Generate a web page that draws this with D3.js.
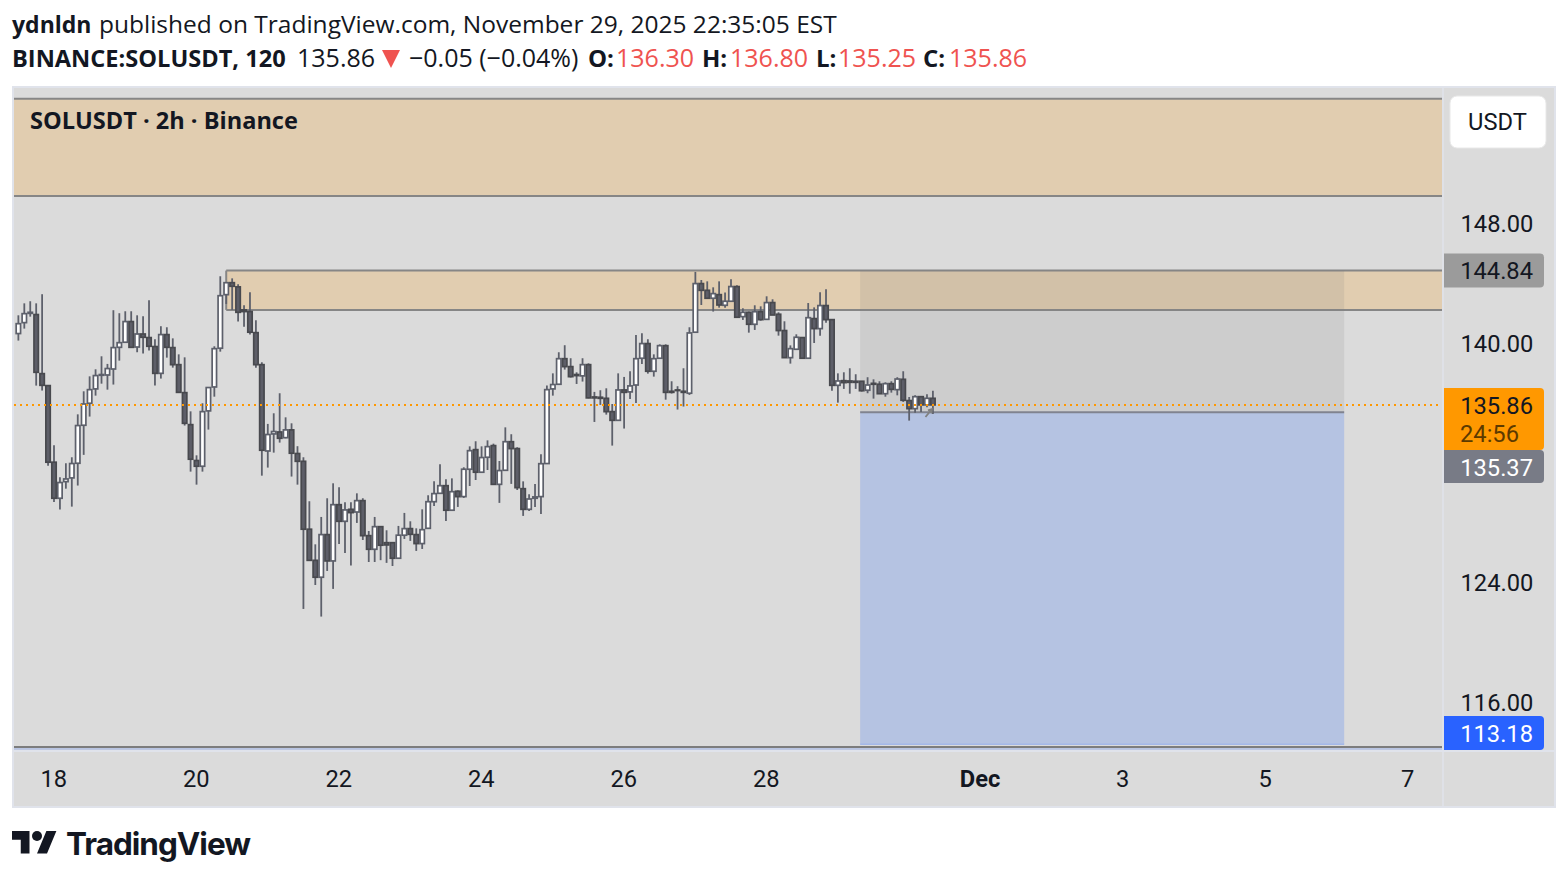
<!DOCTYPE html>
<html>
<head>
<meta charset="utf-8">
<title>SOLUSDT 2h</title>
<script src="https://d3js.org/d3.v7.min.js"></script>
<style>
	html, body { margin: 0; padding: 0; background: #fff; }
	svg { display: block; }
	text { font-family: Roboto, sans-serif; fill: #131722; }
	.head text { font-family: "Open Sans", sans-serif; font-size: 24.5px; }
	.axis text { font-family: Roboto, sans-serif; font-size: 23.7px; fill: #131722; }
</style>
</head>
<body>
<svg id="chart" width="1568" height="880"></svg>
<script>
// 2h candles from Nov 17 12:00
var opens = [140.63,141.36,141.98,141.90,137.95,137.15,132.03,129.62,130.73,130.98,
	131.96,134.50,135.97,136.93,137.84,137.86,138.26,139.71,140.05,141.43,
	139.73,140.60,140.36,139.76,137.97,140.56,139.69,138.55,136.68,134.54,
	132.14,131.76,135.46,137.06,139.65,143.23,144.03,143.75,142.21,142.10,
	140.69,138.55,132.78,133.92,134.05,133.67,134.19,132.61,132.09,127.55,
	125.47,124.34,127.19,125.43,129.19,128.08,128.88,128.70,129.46,127.12,
	126.21,127.72,126.65,126.65,125.61,127.15,127.59,127.19,126.59,127.61,
	129.39,129.95,130.46,128.82,130.09,129.73,131.56,132.87,131.36,132.36,
	133.14,130.55,131.49,133.40,132.94,130.26,128.88,129.62,129.73,131.94,
	136.93,137.24,138.95,138.42,137.89,137.80,138.55,136.39,136.37,136.30,
	135.41,134.83,136.86,136.73,137.19,138.98,139.96,138.11,138.98,139.82,
	136.77,136.86,136.77,136.64,140.72,143.97,143.52,142.99,143.23,142.52,
	142.79,143.77,141.76,142.05,141.25,142.09,141.58,142.70,141.92,140.83,
	139.02,139.58,140.36,138.98,141.63,140.96,142.50,141.56,137.17,137.48,
	137.46,137.44,137.44,136.84,137.30,137.24,136.61,137.28,136.88,137.57,
	136.15,135.61,136.41,135.86,136.30];
var closes = [141.29,141.96,142.05,138.04,137.17,132.03,129.62,130.67,130.91,131.94,
	134.48,135.92,136.88,137.82,137.89,138.29,139.69,140.02,141.43,139.71,
	140.60,140.38,139.78,137.97,140.56,139.71,138.55,136.70,134.63,132.23,
	131.76,135.41,137.02,139.62,143.16,144.03,143.79,142.05,142.10,140.72,
	138.55,132.83,133.88,134.08,133.63,134.19,132.63,132.09,127.55,125.47,
	124.34,127.19,125.43,129.19,128.08,128.84,128.66,129.46,127.12,126.21,
	127.72,126.48,126.50,125.61,127.15,127.59,127.21,126.59,127.52,129.39,
	129.93,130.46,128.82,130.06,129.73,131.56,132.80,131.36,132.34,133.07,
	130.55,131.47,133.40,132.94,130.33,128.88,129.57,129.71,131.93,136.88,
	137.22,138.95,138.42,137.75,137.82,138.55,136.33,136.33,136.30,135.41,
	134.83,136.86,136.70,137.13,138.95,139.96,138.11,138.95,139.82,136.70,
	136.70,136.82,136.70,140.67,143.97,143.52,142.99,143.30,142.54,142.79,
	143.77,141.72,142.05,141.25,142.09,141.56,142.70,141.87,140.83,139.02,
	139.62,140.38,138.98,141.69,140.96,142.50,141.56,137.17,137.46,137.35,
	137.37,137.37,136.81,137.19,137.24,136.61,137.28,136.90,137.59,136.17,
	135.61,136.41,135.86,136.30,135.86];
var highs = [141.85,142.65,142.79,142.65,143.26,137.15,133.16,131.02,131.96,132.36,
	135.23,136.77,137.77,138.24,139.11,138.60,142.19,141.99,142.12,142.12,
	141.85,141.78,142.85,140.25,141.12,141.05,140.31,139.24,139.04,135.43,
	132.49,135.97,137.02,139.78,144.46,144.03,144.32,143.92,142.52,143.39,
	141.52,138.71,134.59,135.30,136.64,135.03,134.63,133.10,132.36,129.42,
	126.54,128.37,129.62,130.62,130.35,129.35,129.35,129.95,129.62,127.43,
	128.37,127.72,127.48,126.65,127.77,128.64,128.08,127.61,128.88,129.82,
	130.75,131.89,130.89,130.95,130.15,131.69,133.09,133.43,133.09,133.49,
	133.27,132.11,134.36,133.90,133.03,130.75,129.88,130.58,132.56,137.15,
	137.97,139.38,139.85,138.98,138.04,138.98,138.64,136.73,136.84,136.97,
	135.92,137.97,137.73,138.11,140.54,140.65,140.25,139.24,139.91,139.91,
	137.44,137.11,138.31,141.05,144.75,144.21,144.12,143.72,144.12,143.37,
	144.26,143.86,142.32,142.10,142.52,142.45,143.12,142.92,142.05,141.45,
	139.84,140.58,140.38,142.67,142.38,143.39,143.59,141.56,137.97,138.04,
	138.31,137.91,137.46,137.71,137.57,137.44,137.37,137.44,137.71,138.11,
	136.39,136.50,136.41,136.57,136.80];
var lows = [140.16,140.96,141.76,137.15,136.82,131.80,129.37,128.86,130.26,129.06,
	130.47,132.52,135.08,136.48,137.28,136.88,137.22,138.82,140.05,139.71,
	139.38,139.29,139.49,137.15,137.62,139.02,138.35,136.70,134.48,131.40,
	130.53,131.40,134.21,136.41,139.42,142.61,142.21,141.43,141.09,140.56,
	138.35,131.13,131.67,132.67,133.34,133.63,131.07,130.53,122.22,125.45,
	123.82,121.71,124.76,123.56,126.57,125.96,125.12,127.97,126.83,125.36,
	125.36,125.48,125.30,125.09,125.59,126.90,126.77,126.10,126.23,127.61,
	129.10,129.95,128.10,128.82,129.04,129.64,130.44,130.84,131.36,131.51,
	130.55,129.31,131.49,130.58,130.17,128.44,128.77,129.04,128.57,131.94,
	136.48,137.24,138.22,137.69,137.26,137.42,136.30,134.72,135.86,135.21,
	133.14,134.81,134.28,136.26,135.99,138.60,137.95,137.75,138.98,136.21,
	136.62,135.55,135.75,136.53,140.72,142.54,142.99,142.10,142.36,142.36,
	142.79,141.72,141.54,140.69,140.87,141.49,141.58,141.87,140.49,139.02,
	138.62,139.58,138.98,138.98,140.00,140.49,141.36,136.81,136.01,136.93,
	136.61,136.93,136.75,136.64,136.28,136.61,136.41,136.68,136.50,136.06,
	134.81,135.34,135.39,135.70,135.25];

var priceTicks = [148, 140, 124, 116];
var dateTicks = ["2025-11-18","2025-11-20","2025-11-22","2025-11-24","2025-11-26","2025-11-28","2025-12-01","2025-12-03","2025-12-05","2025-12-07"];
var dateLabels = ["18","20","22","24","26","28","Dec","3","5","7"];

var lastPrice = 135.86, countdown = "24:56";
var zoneHigh = [156.33, 149.83];
var zoneLow = [144.84, 142.21];
var zoneLowStart = "2025-11-20T10:00Z";
var entry = 135.37, target = 113.18, stop = 144.84, floorLine = 113.0;
var boxStart = "2025-11-29T07:30Z", boxEnd = "2025-12-06T02:30Z";

var svg = d3.select("#chart");

var startTime = Date.UTC(2025, 10, 17, 12);
var times = opens.map(function (d, i) { return new Date(startTime + i * 2 * 3600 * 1000); });

var x = d3.scaleUtc().domain([new Date("2025-11-18"), new Date("2025-12-07")]).range([54, 1408]);
var y = d3.scaleLinear().domain([148, 116]).range([223.3, 702]);

var plotL = 14, plotR = 1442;

// frame
svg.append("rect").attr("x", 13).attr("y", 87).attr("width", 1542).attr("height", 720)
	.attr("fill", "#dbdbdb").attr("stroke", "#e0e3eb").attr("stroke-width", 2);
svg.append("line").attr("x1", 1443).attr("x2", 1443).attr("y1", 87).attr("y2", 807).attr("stroke", "#e0e3eb").attr("stroke-width", 1.5);
svg.append("line").attr("x1", 13).attr("x2", 1555).attr("y1", 751).attr("y2", 751).attr("stroke", "#e0e3eb").attr("stroke-width", 2);

// supply zones
function zone(x0, p0, p1) {
	var g = svg.append("g");
	g.append("rect").attr("x", x0).attr("y", y(p0)).attr("width", plotR - x0).attr("height", y(p1) - y(p0)).attr("fill", "#e1cdb0");
	g.append("path").attr("fill", "none").attr("stroke", "#868686").attr("stroke-width", 2)
		.attr("d", d3.line()([[plotR, y(p0)], [x0, y(p0)]]) + d3.line()([[x0, y(p1)], [plotR, y(p1)]]));
	return g;
}
zone(plotL, zoneHigh[0], zoneHigh[1]);
var lowZone = zone(x(new Date(zoneLowStart)), zoneLow[0], zoneLow[1]);
lowZone.append("line").attr("x1", x(new Date(zoneLowStart))).attr("x2", x(new Date(zoneLowStart)))
	.attr("y1", y(zoneLow[0])).attr("y2", y(zoneLow[1])).attr("stroke", "#868686").attr("stroke-width", 2);

// short position box
var bx0 = x(new Date(boxStart)), bx1 = x(new Date(boxEnd));
svg.append("rect").attr("x", bx0).attr("y", y(stop)).attr("width", bx1 - bx0).attr("height", y(entry) - y(stop))
	.attr("fill", "#808080").attr("fill-opacity", 0.15);
svg.append("rect").attr("x", bx0).attr("y", y(entry)).attr("width", bx1 - bx0).attr("height", y(target) - y(entry))
	.attr("fill", "#b5c3e2");
svg.append("line").attr("x1", bx0).attr("x2", bx1).attr("y1", y(entry)).attr("y2", y(entry))
	.attr("stroke", "#80838f").attr("stroke-width", 2);
svg.append("line").attr("x1", bx0).attr("x2", bx1).attr("y1", y(target)).attr("y2", y(target))
	.attr("stroke", "#a4b8e8").attr("stroke-width", 1.5);

// bottom line with its blue edge
svg.append("rect").attr("x", plotL).attr("y", y(floorLine)).attr("width", plotR - plotL).attr("height", 3).attr("fill", "#b9c5e2");
svg.append("line").attr("x1", plotL).attr("x2", plotR).attr("y1", y(floorLine)).attr("y2", y(floorLine))
	.attr("stroke", "#7d7d7d").attr("stroke-width", 2);

// candles
var candles = svg.append("g").selectAll("g").data(times).enter().append("g");
candles.append("line")
	.attr("x1", function (d) { return x(d); }).attr("x2", function (d) { return x(d); })
	.attr("y1", function (d, i) { return y(highs[i]); }).attr("y2", function (d, i) { return y(lows[i]); })
	.attr("stroke", "#5d606b").attr("stroke-width", 1.8);
candles.append("rect")
	.attr("x", function (d) { return x(d) - 2.2; }).attr("width", 4.4)
	.attr("y", function (d, i) { return y(Math.max(opens[i], closes[i])); })
	.attr("height", function (d, i) { return Math.abs(y(opens[i]) - y(closes[i])); })
	.attr("fill", function (d, i) { return closes[i] >= opens[i] ? "#ffffff" : "#5d5e68"; })
	.attr("stroke", function (d, i) { return closes[i] >= opens[i] ? "#5d606b" : "#48494e"; })
	.attr("stroke-width", 1.7);

// small arrow at the end of the candles
var tipX = x(times[154]) - 1, tipY = y(135.58);
svg.append("path")
	.attr("d", d3.line()([[x(times[153]) - 1.5, y(135.05)], [tipX, tipY]]) + d3.line()([[tipX - 4, y(135.5)], [tipX, tipY], [tipX - 0.5, y(135.3)]]))
	.attr("fill", "none").attr("stroke", "#808080").attr("stroke-width", 1.8);

// last price line
svg.append("line").attr("x1", plotL).attr("x2", plotR).attr("y1", y(lastPrice)).attr("y2", y(lastPrice))
	.attr("stroke", "#ff9800").attr("stroke-width", 2).attr("stroke-dasharray", "2 4");

// axes
var yAxis = d3.axisRight(y).tickValues(priceTicks).tickSize(0).tickPadding(0).tickFormat(d3.format(".2f"));
var yg = svg.append("g").attr("class", "axis").attr("transform", "translate(1460.5,1)").call(yAxis);
yg.select(".domain").remove();

var xAxis = d3.axisBottom(x).tickValues(dateTicks.map(function (d) { return new Date(d); })).tickSize(0).tickPadding(0)
	.tickFormat(function (d, i) { return dateLabels[i]; });
var xg = svg.append("g").attr("class", "axis").attr("transform", "translate(-0.8,770)").call(xAxis);
xg.select(".domain").remove();
xg.selectAll("text").style("font-weight", function (d, i) { return dateLabels[i] == "Dec" ? 700 : 400; });

// price labels
function priceLabel(top, h, fill, text, color, textY) {
	svg.append("path").attr("fill", fill)
		.attr("d", "M1444," + top + "H1540a4,4 0 0 1 4,4V" + (top + h - 4) + "a4,4 0 0 1 -4,4H1444Z");
	svg.append("text").attr("x", 1533).attr("y", textY).attr("text-anchor", "end")
		.style("font-size", "23.7px").style("fill", color).text(text);
}
priceLabel(y(stop) - 17, 34, "#9b9b9b", stop.toFixed(2), "#131722", 279);
priceLabel(388, 62, "#ff9800", lastPrice.toFixed(2), "#131722", 414);
svg.append("text").attr("x", 1460).attr("y", 442).style("font-size", "23.7px").style("fill", "#5c3a00").text(countdown);
priceLabel(450, 33, "#787b86", entry.toFixed(2), "#ffffff", 476);
priceLabel(716, 34, "#2962ff", target.toFixed(2), "#ffffff", 742);

// currency button
svg.append("rect").attr("x", 1450).attr("y", 96).attr("width", 96).attr("height", 52).attr("rx", 7)
	.attr("fill", "#fff").attr("stroke", "#e8e8e8");
svg.append("text").attr("x", 1497.5).attr("y", 130).attr("text-anchor", "middle").style("font-size", "23.7px").text("USDT");

// chart title
svg.append("text").attr("x", 30).attr("y", 129)
	.style("font-family", "'Open Sans', sans-serif").style("font-size", "23.55px").style("font-weight", 700)
	.text("SOLUSDT · 2h · Binance");

// header
var head = svg.append("g").attr("class", "head");
var line1 = head.append("text").attr("x", 12).attr("y", 33);
line1.append("tspan").style("font-weight", 700).style("font-size", "23px").text("ydnldn");
line1.append("tspan").attr("x", 99).text("published on TradingView.com, November 29, 2025 22:35:05 EST");

head.append("text").attr("x", 12).attr("y", 67).style("font-weight", 700).style("font-size", "23.6px").text("BINANCE:SOLUSDT, 120");
head.append("text").attr("x", 297).attr("y", 67).style("font-size", "25px").text("135.86");
svg.append("path").attr("d", "M382,50H400L391,68Z").attr("fill", "#ef5350");
head.append("text").attr("x", 409).attr("y", 67).style("font-size", "25px").text("−0.05 (−0.04%)");

var ohlcKeys = ["O:", "H:", "L:", "C:"];
var ohlcVals = ["136.30", "136.80", "135.25", "135.86"];
var keyX = [588, 702, 816, 923], valX = [616, 730, 838, 949];
ohlcKeys.forEach(function (k, i) {
	head.append("text").attr("x", keyX[i]).attr("y", 67).style("font-weight", 700).style("font-size", "24px").text(k);
	head.append("text").attr("x", valX[i]).attr("y", 67).style("fill", "#ef5350").style("font-size", "25px").text(ohlcVals[i]);
});

// logo
var logo = svg.append("g").attr("transform", "translate(12,826) scale(1.25)").attr("fill", "#131722");
logo.append("path").attr("d", "M14 22H7V11H0V4h14v18zM28 22h-8l7.5-18h8L28 22z");
logo.append("circle").attr("cx", 20).attr("cy", 8).attr("r", 4);
svg.append("text").attr("x", 66).attr("y", 855)
	.style("font-family", "Inter, sans-serif").style("font-size", "31.5px").style("font-weight", 700).style("letter-spacing", "-1px")
	.text("TradingView");
</script>
</body>
</html>
